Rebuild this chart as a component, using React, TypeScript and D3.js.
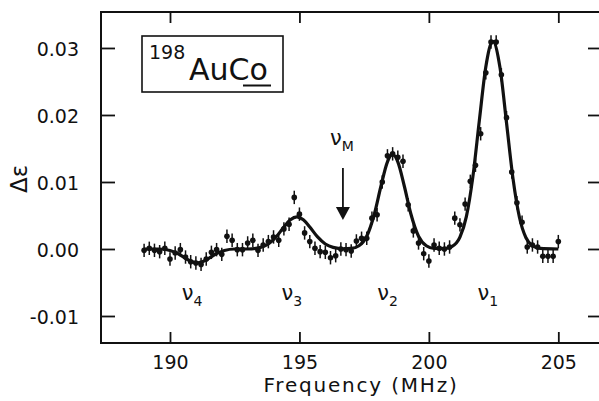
import React, { useEffect, useRef } from 'react';
import * as d3 from 'd3';

// measured points (frequency in MHz, asymmetry)
const freqs = [
  189.0, 189.2, 189.4, 189.6, 189.8, 190.0, 190.2, 190.4, 190.6, 190.8,
  191.0, 191.2, 191.4, 191.6, 191.8, 192.0, 192.2, 192.4, 192.6, 192.8,
  193.0, 193.2, 193.4, 193.6, 193.8, 194.0, 194.2, 194.4, 194.6, 194.8,
  195.0, 195.2, 195.4, 195.6, 195.8, 196.0, 196.2, 196.4, 196.6, 196.8,
  197.0, 197.2, 197.4, 197.6, 197.8, 198.0, 198.2, 198.4, 198.6, 198.8,
  199.0, 199.2, 199.4, 199.6, 199.8, 200.0, 200.2, 200.4, 200.6, 200.8,
  201.0, 201.2, 201.4, 201.6, 201.8, 202.0, 202.2, 202.4, 202.6, 202.8,
  203.0, 203.2, 203.4, 203.6, 203.8, 204.0, 204.2, 204.4, 204.6, 204.8,
  205.0,
];
const deltaEps = [
  -0.0002, 0.0001, -0.0002, -0.0004, 0.0001, -0.0015, -0.0006, -0.0001, -0.0012, -0.0019,
  -0.0021, -0.0023, -0.0015, -0.0005, -0.0001, -0.0008, 0.0019, 0.0013, -0.0001, -0.0001,
  0.0009, 0.0013, -0.0002, 0.0006, 0.0011, 0.0018, 0.0013, 0.0030, 0.0037, 0.0077,
  0.0052, 0.0024, 0.0011, 0.0001, -0.0004, -0.0005, -0.0013, -0.0010, 0.0000, -0.0001,
  -0.0003, 0.0012, 0.0016, 0.0016, 0.0046, 0.0051, 0.0100, 0.0139, 0.0142, 0.0137,
  0.0131, 0.0066, 0.0027, 0.0009, -0.0007, -0.0018, 0.0006, 0.0001, 0.0000, 0.0003,
  0.0046, 0.0036, 0.0067, 0.0101, 0.0125, 0.0172, 0.0263, 0.0309, 0.0309, 0.0260,
  0.0196, 0.0115, 0.0069, 0.0040, 0.0003, 0.0006, 0.0003, -0.0011, -0.0011, -0.0011,
  0.0011,
];
const errBar = 0.001;

// fitted curve
const fitFreqs = [
  189.0, 189.6, 190.0, 190.3, 190.6, 190.85, 191.05, 191.25, 191.5, 191.8,
  192.1, 192.5, 193.0, 193.5, 193.8, 194.1, 194.4, 194.65, 194.9, 195.15,
  195.4, 195.7, 196.0, 196.3, 196.7, 197.0, 197.3, 197.6, 197.9, 198.15,
  198.4, 198.6, 198.8, 199.05, 199.3, 199.6, 199.9, 200.2, 200.6, 200.9,
  201.2, 201.45, 201.7, 201.95, 202.2, 202.47, 202.75, 203.0, 203.25, 203.5,
  203.75, 204.0, 204.3, 205.0,
];
const fitValues = [
  0.0, 0.0, -0.00023, -0.00068, -0.0014, -0.0019, -0.0021, -0.0019, -0.0014, -0.00068,
  -0.00023, 0.0, 0.0, 0.00024, 0.00075, 0.0018, 0.00327, 0.00436, 0.0048, 0.00436,
  0.00327, 0.0018, 0.00075, 0.00024, 0.00004, 0.00008, 0.00048, 0.0019, 0.0053, 0.0094,
  0.0130, 0.0141, 0.0130, 0.0094, 0.0053, 0.0019, 0.00048, 0.00008, 0.00006, 0.00039,
  0.00176, 0.00487, 0.0108, 0.0192, 0.0272, 0.0310, 0.0270, 0.0188, 0.0105, 0.0047,
  0.00168, 0.00048, 0.00008, 0.0,
];

const xTicks = [190, 195, 200, 205];
const yTicks = [-0.01, 0.0, 0.01, 0.02, 0.03];

const peakLabels = ['4', '3', '2', '1'];
const peakFreqs = [191.05, 194.9, 198.6, 202.47];
const markerFreq = 196.68;

const FONT = '"DejaVu Sans", sans-serif';

const App = () => {
  const svgRef = useRef(null);

  useEffect(() => {
    const width = 599;
    const height = 401;
    const left = 101, right = 600, top = 12, bottom = 343;

    const svg = d3.select(svgRef.current);
    svg.selectAll('*').remove();

    const x = d3.scaleLinear().domain([187.335, 206.61]).range([left, right]);
    const y = d3.scaleLinear().domain([-0.01403, 0.03537]).range([bottom, top]);

    svg.append('rect').attr('width', width).attr('height', height).attr('fill', '#fff');

    // frame
    svg.append('path')
      .attr('d', `M${right},${top}H${left}V${bottom}H${right}`)
      .attr('fill', 'none')
      .attr('stroke', '#111')
      .attr('stroke-width', 2);

    // axes (inward ticks)
    const styleAxis = (g) => {
      g.select('.domain').remove();
      g.selectAll('line').attr('stroke', '#111').attr('stroke-width', 1.8);
      g.selectAll('text')
        .attr('font-family', FONT)
        .attr('font-size', 19)
        .attr('fill', '#111');
    };

    svg.append('g')
      .attr('transform', `translate(0,${bottom})`)
      .call(d3.axisBottom(x).tickValues(xTicks).tickSizeInner(-11).tickSizeOuter(0)
        .tickPadding(13).tickFormat(d3.format('d')))
      .call(styleAxis);

    svg.append('g')
      .attr('transform', `translate(0,${top})`)
      .call(d3.axisTop(x).tickValues(xTicks).tickSizeInner(-11).tickSizeOuter(0).tickFormat(() => ''))
      .call(styleAxis);

    const yGrp = svg.append('g')
      .attr('transform', `translate(${left},0)`)
      .call(d3.axisLeft(y).tickValues(yTicks).tickSizeInner(-14).tickSizeOuter(0)
        .tickPadding(22).tickFormat((d) => (d < 0 ? '-' : '') + d3.format('.2f')(Math.abs(d))))
      .call(styleAxis);
    yGrp.selectAll('text').attr('dy', '0.38em');

    svg.append('g')
      .attr('transform', `translate(${right},0)`)
      .call(d3.axisRight(y).tickValues(yTicks).tickSizeInner(-12).tickSizeOuter(0).tickFormat(() => ''))
      .call(styleAxis);

    // axis titles
    svg.append('text')
      .attr('x', 361)
      .attr('y', 392)
      .attr('text-anchor', 'middle')
      .attr('font-family', FONT)
      .attr('font-size', 20)
      .attr('letter-spacing', 1.8)
      .attr('fill', '#111')
      .text('Frequency (MHz)');

    svg.append('text')
      .attr('transform', 'translate(27,179) rotate(-90)')
      .attr('text-anchor', 'middle')
      .attr('font-family', FONT)
      .attr('font-size', 23)
      .attr('fill', '#111')
      .text('\u0394\u03b5');

    // fitted curve
    const line = d3.line()
      .x((d) => x(d[0]))
      .y((d) => y(d[1]))
      .curve(d3.curveMonotoneX);
    svg.append('path')
      .datum(fitFreqs.map((f, i) => [f, fitValues[i]]))
      .attr('d', line)
      .attr('fill', 'none')
      .attr('stroke', '#111')
      .attr('stroke-width', 3.2);

    // data points with error bars
    const pts = svg.append('g').selectAll('g')
      .data(freqs.map((f, i) => ({ f, v: deltaEps[i] })))
      .enter()
      .append('g');
    pts.append('line')
      .attr('x1', (d) => x(d.f))
      .attr('x2', (d) => x(d.f))
      .attr('y1', (d) => y(d.v + errBar))
      .attr('y2', (d) => y(d.v - errBar))
      .attr('stroke', '#111')
      .attr('stroke-width', 1.5);
    pts.append('circle')
      .attr('cx', (d) => x(d.f))
      .attr('cy', (d) => y(d.v))
      .attr('r', 2.8)
      .attr('fill', '#111');

    // peak labels
    peakLabels.forEach((s, i) => {
      const t = svg.append('text')
        .attr('x', x(peakFreqs[i]) - 5)
        .attr('y', 300)
        .attr('text-anchor', 'middle')
        .attr('font-family', FONT)
        .attr('font-size', 21)
        .attr('fill', '#111');
      t.append('tspan').text('\u03bd');
      t.append('tspan').attr('font-size', 14).attr('dy', 6).text(s);
    });

    // nu_M marker with arrow
    const mx = x(markerFreq);
    const tm = svg.append('text')
      .attr('x', mx - 1)
      .attr('y', 145)
      .attr('text-anchor', 'middle')
      .attr('font-family', FONT)
      .attr('font-size', 21)
      .attr('fill', '#111');
    tm.append('tspan').text('\u03bd');
    tm.append('tspan').attr('font-size', 14).attr('dy', 6).text('M');

    svg.append('line')
      .attr('x1', mx).attr('x2', mx)
      .attr('y1', 168).attr('y2', 209)
      .attr('stroke', '#111')
      .attr('stroke-width', 1.8);
    svg.append('path')
      .attr('d', `M${mx - 7},207L${mx + 7},207L${mx},220Z`)
      .attr('fill', '#111');

    // inset label box
    const box = svg.append('g');
    box.append('rect')
      .attr('x', 142).attr('y', 36)
      .attr('width', 141).attr('height', 56)
      .attr('fill', 'none')
      .attr('stroke', '#111')
      .attr('stroke-width', 1.6);
    box.append('text')
      .attr('x', 149).attr('y', 59)
      .attr('font-family', FONT)
      .attr('font-size', 19)
      .attr('fill', '#111')
      .text('198');
    box.append('text')
      .attr('x', 189).attr('y', 80)
      .attr('font-family', FONT)
      .attr('font-size', 30)
      .attr('fill', '#111')
      .text('AuCo');
    box.append('line')
      .attr('x1', 243).attr('x2', 271)
      .attr('y1', 85.5).attr('y2', 85.5)
      .attr('stroke', '#111')
      .attr('stroke-width', 2);
  }, []);

  return (
    <svg
      ref={svgRef}
      width={599}
      height={401}
      style={{ position: 'absolute', left: 0, top: 0 }}
    ></svg>
  );
};

export default App;
